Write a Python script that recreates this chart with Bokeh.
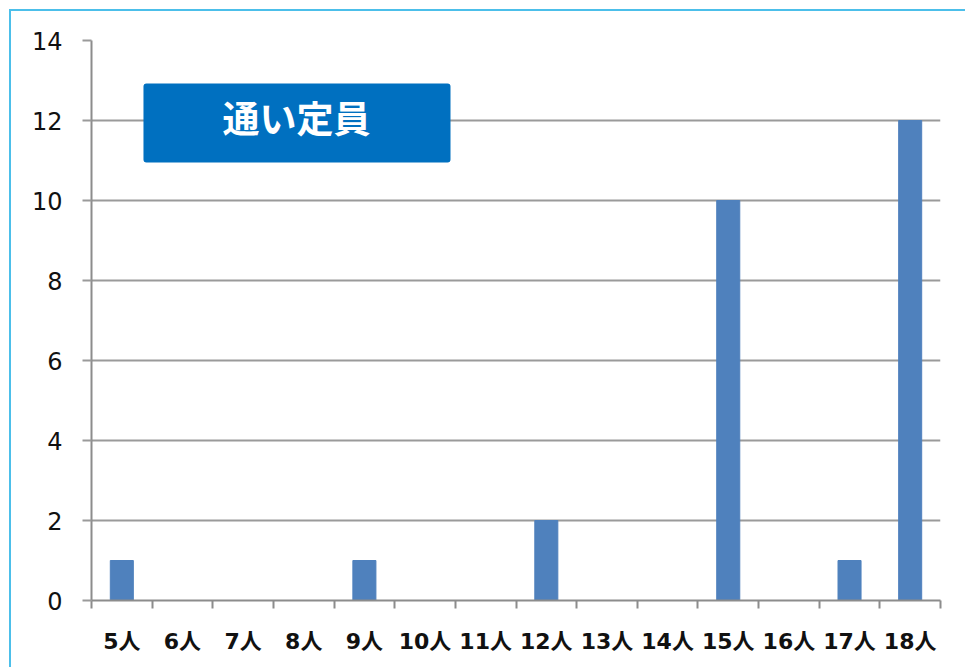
from bokeh.plotting import figure
from bokeh.models import (Range1d, LinearAxis, FixedTicker, BoxAnnotation, Label)
from bokeh.embed import file_html
from bokeh.resources import INLINE

categories = ["5人", "6人", "7人", "8人", "9人", "10人", "11人", "12人",
              "13人", "14人", "15人", "16人", "17人", "18人"]
counts = [1, 0, 0, 0, 1, 0, 0, 2, 0, 0, 10, 0, 1, 12]
y_ticks = [0, 2, 4, 6, 8, 10, 12, 14]
title_text = "通い定員"

n = len(categories)
centers = [i + 0.5 for i in range(n)]
edges = list(range(n + 1))

p = figure(x_range=Range1d(0, n), y_range=Range1d(0, 14),
           width=956, height=658, x_axis_location=None,
           output_backend="svg", toolbar_location=None,
           min_border_left=80, min_border_right=27,
           min_border_top=29, min_border_bottom=69)
p.styles = {"margin-left": "9px", "margin-top": "9px",
            "border-left": "2px solid #4cbfea",
            "border-top": "2px solid #4cbfea"}
p.outline_line_color = None
p.background_fill_color = "white"
p.border_fill_color = "white"

p.vbar(x=centers, top=counts, width=0.38, color="#4f81bd")

xa = LinearAxis(ticker=FixedTicker(ticks=centers, minor_ticks=edges),
                major_label_overrides={c: lab for c, lab in zip(centers, categories)},
                axis_line_color="#8c8c8c", axis_line_width=2,
                major_tick_line_color=None, major_tick_in=0, major_tick_out=0,
                minor_tick_line_color="#8c8c8c", minor_tick_line_width=2,
                minor_tick_in=0, minor_tick_out=8,
                major_label_standoff=20,
                major_label_text_font="DejaVu Sans, Noto Sans CJK JP",
                major_label_text_font_style="bold",
                major_label_text_font_size="22px",
                major_label_text_color="#111111")
p.add_layout(xa, "below")

ya = p.yaxis[0]
ya.ticker = FixedTicker(ticks=y_ticks)
ya.axis_line_color = "#8c8c8c"
ya.axis_line_width = 2
ya.major_tick_in = 0
ya.major_tick_out = 9
ya.major_tick_line_color = "#9a9a9a"
ya.major_tick_line_width = 2
ya.minor_tick_line_color = None
ya.major_label_standoff = 20
ya.major_label_text_font = "DejaVu Sans"
ya.major_label_text_font_size = "24px"
ya.major_label_text_color = "#111111"

p.xgrid.grid_line_color = None
p.ygrid.grid_line_color = "#9a9a9a"
p.ygrid.grid_line_width = 2

box = BoxAnnotation(left=0.857, right=5.92, bottom=10.95, top=12.925,
                    fill_color="#0070c0", fill_alpha=1.0, line_color=None,
                    border_radius=3)
p.add_layout(box)
p.add_layout(Label(x=3.38, y=12.1, text=title_text, text_align="center",
                   text_baseline="middle", text_color="white",
                   text_font="Noto Sans CJK JP", text_font_style="bold",
                   text_font_size="37px"))

open("out.html", "w").write(file_html(p, INLINE))
